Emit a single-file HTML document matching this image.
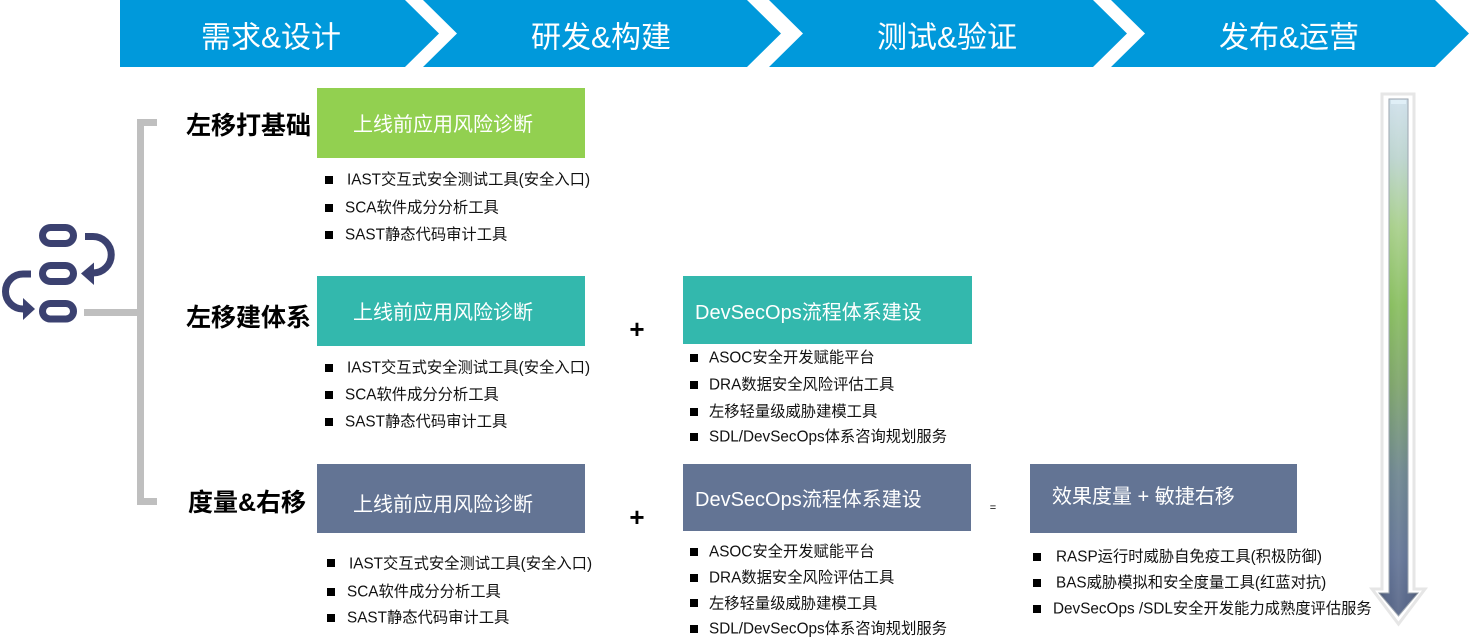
<!DOCTYPE html>
<html>
<head>
<meta charset="utf-8">
<style>
html,body{margin:0;padding:0;background:#fff;}
body{width:1469px;height:641px;overflow:hidden;}
svg{display:block;}
text{font-family:"Liberation Sans","Noto Sans CJK SC",sans-serif;}
.hd{font-size:30px;fill:#fff;}
.lb{font-size:25px;font-weight:bold;fill:#000;}
.bx{font-size:20px;fill:#fff;}
.it{font-size:15.3px;fill:#111;}
</style>
</head>
<body>
<svg width="1469" height="641" viewBox="0 0 1469 641" xmlns="http://www.w3.org/2000/svg">
<defs>
<linearGradient id="vg" x1="0" y1="96" x2="0" y2="620" gradientUnits="userSpaceOnUse">
<stop offset="0" stop-color="#CFE0EC"/>
<stop offset="0.12" stop-color="#B9D2CC"/>
<stop offset="0.25" stop-color="#A4CD86"/>
<stop offset="0.4" stop-color="#83BB58"/>
<stop offset="0.55" stop-color="#78A064"/>
<stop offset="0.72" stop-color="#67808A"/>
<stop offset="0.88" stop-color="#5C6E91"/>
<stop offset="1" stop-color="#4E5D80"/>
</linearGradient>
<linearGradient id="hg" x1="1379" y1="0" x2="1418" y2="0" gradientUnits="userSpaceOnUse">
<stop offset="0" stop-color="#000" stop-opacity="0.18"/>
<stop offset="0.3" stop-color="#fff" stop-opacity="0.05"/>
<stop offset="0.5" stop-color="#fff" stop-opacity="0.12"/>
<stop offset="0.7" stop-color="#fff" stop-opacity="0.05"/>
<stop offset="1" stop-color="#000" stop-opacity="0.18"/>
</linearGradient>
</defs>

<!-- banner -->
<polygon points="120,0 405,0 439,33.5 405,67 120,67" fill="#0099DB"/>
<polygon points="423,0 747,0 781,33.5 747,67 423,67 457,33.5" fill="#0099DB"/>
<polygon points="769,0 1093,0 1127,33.5 1093,67 769,67 803,33.5" fill="#0099DB"/>
<polygon points="1111,0 1435,0 1469,33.5 1435,67 1111,67 1145,33.5" fill="#0099DB"/>
<text class="hd" x="271" y="38" text-anchor="middle" dominant-baseline="central">需求&amp;设计</text>
<text class="hd" x="601" y="38" text-anchor="middle" dominant-baseline="central">研发&amp;构建</text>
<text class="hd" x="947" y="38" text-anchor="middle" dominant-baseline="central">测试&amp;验证</text>
<text class="hd" x="1289" y="38" text-anchor="middle" dominant-baseline="central">发布&amp;运营</text>

<!-- icon -->
<g stroke="#3B4170" stroke-width="7" fill="none">
<rect x="42.5" y="227.5" width="31" height="16" rx="8"/>
<rect x="42.5" y="265.5" width="31" height="16" rx="8"/>
<rect x="42.5" y="303.5" width="31" height="15.5" rx="7.75"/>
<path d="M85,236.5 H93 A18.25,18.25 0 0 1 93,273 H92"/>
<path d="M31,274 H23 A17.5,17.5 0 0 0 23,309 H25"/>
</g>
<polygon points="81,273.5 94,262.5 94,285" fill="#3B4170"/>
<polygon points="35,309 23,298 23,320" fill="#3B4170"/>

<!-- bracket -->
<g fill="#BFBFBF">
<rect x="137" y="119" width="7" height="386"/>
<rect x="137" y="119" width="20" height="7"/>
<rect x="137" y="498" width="20" height="7"/>
<rect x="84" y="309" width="55" height="7"/>
</g>

<!-- labels -->
<text class="lb" x="186" y="126" dominant-baseline="central">左移打基础</text>
<text class="lb" x="186" y="318" dominant-baseline="central">左移建体系</text>
<text class="lb" x="188" y="503" dominant-baseline="central">度量&amp;右移</text>

<!-- boxes -->
<rect x="317" y="88" width="268" height="70" fill="#92D050"/>
<rect x="317" y="276" width="268" height="70" fill="#33B8AD"/>
<rect x="317" y="464" width="268" height="69" fill="#637494"/>
<rect x="683" y="276" width="289" height="68" fill="#33B8AD"/>
<rect x="683" y="464" width="288" height="67" fill="#637494"/>
<rect x="1030" y="464" width="267" height="69" fill="#637494"/>

<text class="bx" x="353" y="125" dominant-baseline="central">上线前应用风险诊断</text>
<text class="bx" x="353" y="313" dominant-baseline="central">上线前应用风险诊断</text>
<text class="bx" x="353" y="505" dominant-baseline="central">上线前应用风险诊断</text>
<text class="bx" x="695" y="313" dominant-baseline="central">DevSecOps流程体系建设</text>
<text class="bx" x="695" y="500" dominant-baseline="central">DevSecOps流程体系建设</text>
<text class="bx" x="1052" y="497" dominant-baseline="central">效果度量 + 敏捷右移</text>

<!-- operators -->
<text x="637" y="329" text-anchor="middle" dominant-baseline="central" style="font-size:26px;font-weight:bold;fill:#000;">+</text>
<text x="637" y="517" text-anchor="middle" dominant-baseline="central" style="font-size:26px;font-weight:bold;fill:#000;">+</text>
<text x="993" y="508" text-anchor="middle" dominant-baseline="central" style="font-size:11px;fill:#000;">=</text>

<!-- bullet squares -->
<g fill="#000">
<rect x="325" y="176" width="8" height="8"/>
<rect x="325" y="204" width="8" height="8"/>
<rect x="325" y="231" width="8" height="8"/>
<rect x="325" y="364" width="8" height="8"/>
<rect x="325" y="391" width="8" height="8"/>
<rect x="325" y="418" width="8" height="8"/>
<rect x="327" y="559" width="8" height="8"/>
<rect x="327" y="588" width="8" height="8"/>
<rect x="327" y="614" width="8" height="8"/>
<rect x="690" y="354" width="8" height="8"/>
<rect x="690" y="381" width="8" height="8"/>
<rect x="690" y="408" width="8" height="8"/>
<rect x="690" y="433" width="8" height="8"/>
<rect x="690" y="548" width="8" height="8"/>
<rect x="690" y="574" width="8" height="8"/>
<rect x="690" y="599" width="8" height="8"/>
<rect x="690" y="625" width="8" height="8"/>
<rect x="1033" y="553" width="8" height="8"/>
<rect x="1033" y="579" width="8" height="8"/>
<rect x="1033" y="605" width="8" height="8"/>
</g>

<text class="it" x="347" y="180" dominant-baseline="central">IAST交互式安全测试工具(安全入口)</text>
<text class="it" x="345" y="208" dominant-baseline="central">SCA软件成分分析工具</text>
<text class="it" x="345" y="235" dominant-baseline="central">SAST静态代码审计工具</text>

<text class="it" x="347" y="368" dominant-baseline="central">IAST交互式安全测试工具(安全入口)</text>
<text class="it" x="345" y="395" dominant-baseline="central">SCA软件成分分析工具</text>
<text class="it" x="345" y="422" dominant-baseline="central">SAST静态代码审计工具</text>

<text class="it" x="349" y="564" dominant-baseline="central">IAST交互式安全测试工具(安全入口)</text>
<text class="it" x="347" y="592" dominant-baseline="central">SCA软件成分分析工具</text>
<text class="it" x="347" y="618" dominant-baseline="central">SAST静态代码审计工具</text>

<text class="it" x="709" y="358" dominant-baseline="central">ASOC安全开发赋能平台</text>
<text class="it" x="709" y="385" dominant-baseline="central">DRA数据安全风险评估工具</text>
<text class="it" x="709" y="412" dominant-baseline="central">左移轻量级威胁建模工具</text>
<text class="it" x="709" y="437" dominant-baseline="central">SDL/DevSecOps体系咨询规划服务</text>

<text class="it" x="709" y="552" dominant-baseline="central">ASOC安全开发赋能平台</text>
<text class="it" x="709" y="578" dominant-baseline="central">DRA数据安全风险评估工具</text>
<text class="it" x="709" y="604" dominant-baseline="central">左移轻量级威胁建模工具</text>
<text class="it" x="709" y="629" dominant-baseline="central">SDL/DevSecOps体系咨询规划服务</text>

<text class="it" x="1056" y="557" dominant-baseline="central">RASP运行时威胁自免疫工具(积极防御)</text>
<text class="it" x="1056" y="583" dominant-baseline="central">BAS威胁模拟和安全度量工具(红蓝对抗)</text>
<text class="it" x="1053" y="609" dominant-baseline="central">DevSecOps /SDL安全开发能力成熟度评估服务</text>

<!-- vertical arrow -->
<path d="M1382,94 H1414 V589 H1425 L1398.5,624 L1372,589 H1382 Z" fill="#fff" stroke="#E6E6E6" stroke-width="3"/>
<path d="M1389,99 H1408 V593 H1418 L1398.5,616 L1379,593 H1389 Z" fill="url(#vg)" stroke="#9AA3AE" stroke-width="1"/>
<path d="M1389,99 H1408 V593 H1418 L1398.5,616 L1379,593 H1389 Z" fill="url(#hg)"/>
<rect x="1391" y="100" width="15" height="4" fill="#E4F2FA" opacity="0.8"/>
</svg>
</body>
</html>
